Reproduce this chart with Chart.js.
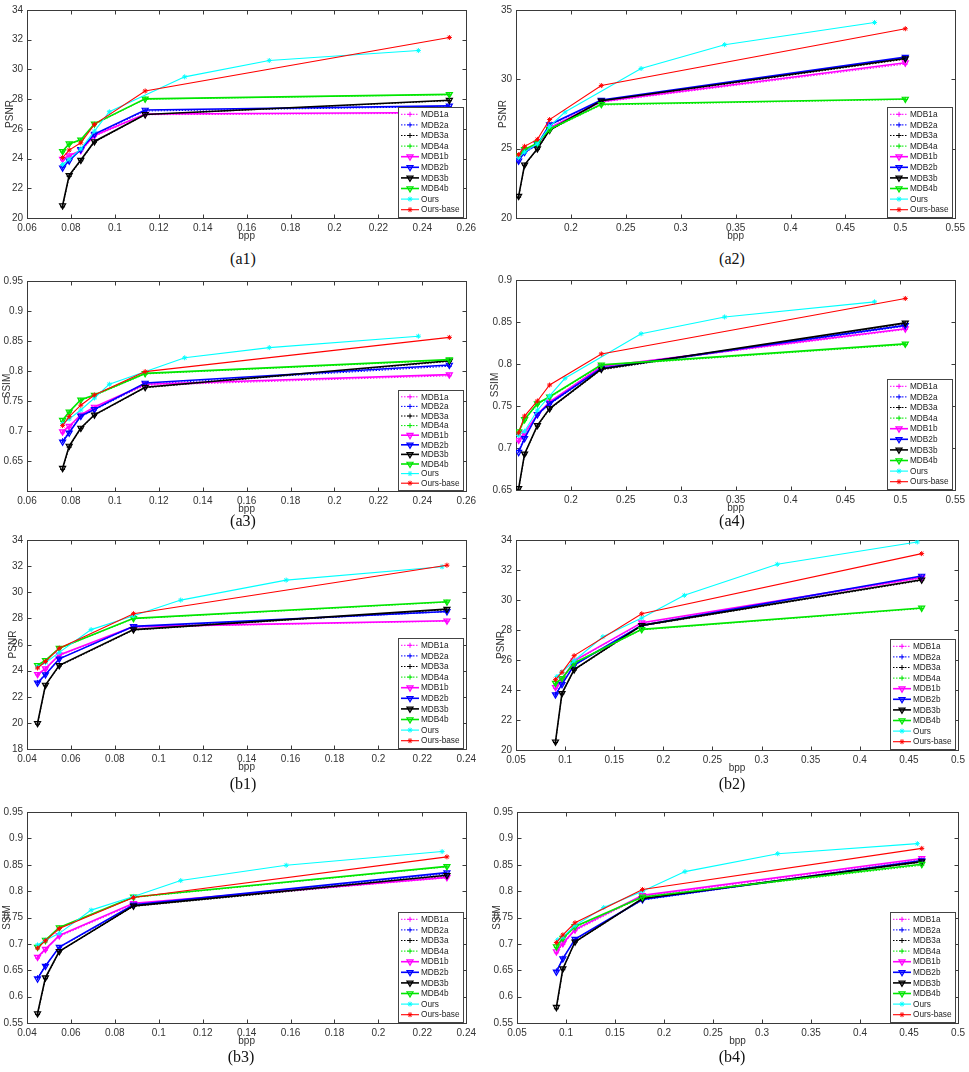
<!DOCTYPE html>
<html>
<head>
<meta charset="utf-8">
<script src="https://cdn.jsdelivr.net/npm/chart.js@4.4.1/dist/chart.umd.min.js"></script>
<style>
  body { margin: 0; background: #fff; width: 969px; height: 1072px; position: relative; overflow: hidden; }
  canvas { position: absolute; }
  .cap { position: absolute; font: 16px "Liberation Serif", serif; color: #111; transform: translate(-50%, -50%); white-space: nowrap; }
</style>
</head>
<body>
<script>
// series names, same order in every panel
const seriesNames = ['MDB1a', 'MDB2a', 'MDB3a', 'MDB4a', 'MDB1b', 'MDB2b', 'MDB3b', 'MDB4b', 'Ours', 'Ours-base'];

// bpp values (x) per image set
const bppA1 = [0.0762, 0.0792, 0.0845, 0.0907, 0.1138, 0.2523];
const oursBppA1 = [0.0762, 0.0792, 0.0845, 0.0907, 0.0975, 0.1318, 0.1703, 0.2382];
const bppA2 = [0.1524, 0.1578, 0.1695, 0.1806, 0.2277, 0.5045];
const oursBppA2 = [0.1524, 0.1578, 0.1695, 0.1806, 0.1946, 0.2639, 0.3400, 0.4765];
const bppB1 = [0.0448, 0.0484, 0.0547, 0.0885, 0.2312];
const oursBppB1 = [0.0448, 0.0484, 0.0547, 0.0692, 0.0885, 0.1100, 0.1580, 0.2290];
const bppB2 = [0.0902, 0.0968, 0.1092, 0.1780, 0.4630];
const oursBppB2 = [0.0917, 0.0968, 0.1092, 0.1385, 0.1780, 0.2214, 0.3160, 0.4585];

// (a1) PSNR
const a1PSNR = [
  [23.90, 24.15, 24.50, 25.50, 26.95, 27.05],
  [23.42, 23.90, 24.60, 25.60, 27.20, 27.50],
  [20.75, 22.80, 23.85, 25.10, 26.95, 27.90],
  [24.45, 24.95, 25.22, 26.30, 28.00, 28.30],
  [23.96, 24.20, 24.55, 25.55, 27.00, 27.10],
  [23.38, 23.85, 24.62, 25.65, 27.27, 27.55],
  [20.84, 22.87, 23.90, 25.15, 26.97, 27.93],
  [24.49, 25.00, 25.26, 26.34, 28.02, 28.32],
  [23.60, 23.95, 24.65, 25.85, 27.15, 29.50, 30.60, 31.27],
  [24.07, 24.57, 25.06, 26.30, 28.55, 32.15]
];
// (a2) PSNR
const a2PSNR = [
  [24.35, 24.80, 25.25, 26.45, 28.35, 31.10],
  [24.10, 24.70, 25.25, 26.68, 28.45, 31.55],
  [21.50, 23.80, 24.95, 26.30, 28.40, 31.45],
  [24.45, 24.90, 25.35, 26.35, 28.15, 28.55],
  [24.40, 24.85, 25.30, 26.50, 28.40, 31.20],
  [24.12, 24.75, 25.30, 26.73, 28.50, 31.60],
  [21.58, 23.84, 25.00, 26.35, 28.45, 31.50],
  [24.50, 24.95, 25.40, 26.40, 28.20, 28.58],
  [24.35, 24.75, 25.35, 26.60, 27.64, 30.78, 32.50, 34.10],
  [24.57, 25.17, 25.67, 27.10, 29.55, 33.65]
];
// (a3) SSIM
const a3SSIM = [
  [0.697, 0.706, 0.725, 0.738, 0.776, 0.792],
  [0.684, 0.699, 0.724, 0.735, 0.778, 0.808],
  [0.636, 0.673, 0.704, 0.726, 0.772, 0.816],
  [0.716, 0.731, 0.751, 0.759, 0.795, 0.818],
  [0.699, 0.708, 0.727, 0.740, 0.778, 0.794],
  [0.682, 0.697, 0.725, 0.736, 0.780, 0.810],
  [0.638, 0.675, 0.705, 0.727, 0.773, 0.817],
  [0.718, 0.732, 0.752, 0.760, 0.796, 0.819],
  [0.712, 0.720, 0.735, 0.755, 0.778, 0.822, 0.839, 0.858],
  [0.709, 0.724, 0.743, 0.760, 0.799, 0.856]
];
// (a4) SSIM
const a4SSIM = [
  [0.708, 0.717, 0.739, 0.754, 0.796, 0.841],
  [0.697, 0.713, 0.739, 0.752, 0.794, 0.845],
  [0.650, 0.692, 0.726, 0.746, 0.793, 0.848],
  [0.718, 0.733, 0.752, 0.760, 0.798, 0.823],
  [0.7095, 0.718, 0.740, 0.755, 0.797, 0.842],
  [0.695, 0.7115, 0.740, 0.753, 0.795, 0.846],
  [0.652, 0.693, 0.727, 0.747, 0.794, 0.849],
  [0.7194, 0.734, 0.753, 0.761, 0.799, 0.824],
  [0.715, 0.720, 0.745, 0.762, 0.783, 0.836, 0.856, 0.874],
  [0.718, 0.738, 0.756, 0.775, 0.812, 0.878]
];
// (b1) PSNR
const b1PSNR = [
  [23.68, 24.10, 25.15, 27.33, 27.78],
  [23.10, 23.72, 24.92, 27.35, 28.50],
  [19.90, 22.85, 24.35, 27.10, 28.66],
  [24.38, 24.75, 25.70, 27.97, 29.24],
  [23.72, 24.15, 25.20, 27.37, 27.82],
  [23.06, 23.70, 24.90, 27.39, 28.53],
  [19.97, 22.90, 24.40, 27.14, 28.71],
  [24.41, 24.79, 25.72, 28.00, 29.27],
  [24.30, 24.60, 25.40, 27.14, 28.20, 29.40, 30.93, 31.95],
  [24.20, 24.70, 25.72, 28.36, 32.07]
];
// (b2) PSNR
const b2PSNR = [
  [24.12, 24.64, 25.90, 28.45, 31.45],
  [23.72, 24.40, 25.65, 28.28, 31.55],
  [20.50, 23.74, 25.32, 28.27, 31.30],
  [24.42, 24.74, 25.77, 28.01, 29.43],
  [24.18, 24.69, 25.95, 28.49, 31.50],
  [23.69, 24.38, 25.67, 28.31, 31.60],
  [20.55, 23.78, 25.36, 28.31, 31.35],
  [24.46, 24.78, 25.80, 28.04, 29.47],
  [24.90, 25.20, 25.95, 27.55, 28.80, 30.31, 32.38, 33.87],
  [24.69, 25.18, 26.29, 29.08, 33.09]
];
// (b3) SSIM
const b3SSIM = [
  [0.673, 0.688, 0.714, 0.775, 0.825],
  [0.636, 0.659, 0.693, 0.772, 0.833],
  [0.566, 0.634, 0.685, 0.771, 0.828],
  [0.693, 0.706, 0.730, 0.788, 0.846],
  [0.675, 0.690, 0.716, 0.777, 0.826],
  [0.634, 0.658, 0.694, 0.774, 0.835],
  [0.568, 0.636, 0.686, 0.772, 0.830],
  [0.694, 0.707, 0.731, 0.789, 0.847],
  [0.698, 0.707, 0.720, 0.764, 0.790, 0.820, 0.849, 0.875],
  [0.692, 0.706, 0.729, 0.788, 0.865]
];
// (b4) SSIM
const b4SSIM = [
  [0.683, 0.699, 0.725, 0.790, 0.860],
  [0.649, 0.673, 0.708, 0.783, 0.857],
  [0.577, 0.651, 0.703, 0.785, 0.855],
  [0.693, 0.709, 0.731, 0.788, 0.849],
  [0.6855, 0.701, 0.727, 0.792, 0.862],
  [0.647, 0.672, 0.709, 0.784, 0.858],
  [0.580, 0.653, 0.704, 0.786, 0.856],
  [0.695, 0.711, 0.733, 0.789, 0.851],
  [0.708, 0.713, 0.735, 0.769, 0.800, 0.837, 0.871, 0.890],
  [0.7025, 0.717, 0.740, 0.803, 0.881]
];

// tick labels
const xTicksA1 = [0.06, 0.08, 0.1, 0.12, 0.14, 0.16, 0.18, 0.2, 0.22, 0.24, 0.26];
const xTicksA2 = [0.2, 0.25, 0.3, 0.35, 0.4, 0.45, 0.5, 0.55];
const xTicksB1 = [0.04, 0.06, 0.08, 0.1, 0.12, 0.14, 0.16, 0.18, 0.2, 0.22, 0.24];
const xTicksB2 = [0.05, 0.1, 0.15, 0.2, 0.25, 0.3, 0.35, 0.4, 0.45, 0.5];
const yTicksA1 = [20, 22, 24, 26, 28, 30, 32, 34];
const yTicksA2 = [20, 25, 30, 35];
const yTicksA3 = [0.65, 0.7, 0.75, 0.8, 0.85, 0.9, 0.95];
const yTicksA4 = [0.65, 0.7, 0.75, 0.8, 0.85, 0.9];
const yTicksB1 = [18, 20, 22, 24, 26, 28, 30, 32, 34];
const yTicksB2 = [20, 22, 24, 26, 28, 30, 32, 34];
const yTicksB34 = [0.55, 0.6, 0.65, 0.7, 0.75, 0.8, 0.85, 0.9, 0.95];

const colors = ['#ff00ff', '#0000ff', '#000000', '#00e600', '#ff00ff', '#0000ff', '#000000', '#00e600', '#00ffff', '#ff0000'];
const fontFam = '"Liberation Sans", Arial, sans-serif';
const legendFam = '"Liberation Sans Narrow", "Liberation Sans", Arial, sans-serif';

// layout of each panel: canvas box, chart area inside canvas, y title x, caption position
const panels = [
  { cap: '(a1)', left: 0,   top: 0,   w: 480, area: [27, 7, 470, 218],  bpp: bppA1, ours: oursBppA1, vals: a1PSNR, yTitle: 'PSNR', xr: [0.06, 0.26], xt: xTicksA1, yr: [20, 34],   yt: yTicksA1,  tx: 10, cx: 243, cy: 259 },
  { cap: '(a2)', left: 485, top: 0,   w: 484, area: [31, 7, 473, 218],  bpp: bppA2, ours: oursBppA2, vals: a2PSNR, yTitle: 'PSNR', xr: [0.15, 0.55], xt: xTicksA2, yr: [20, 35],   yt: yTicksA2,  tx: 18, cx: 732, cy: 259 },
  { cap: '(a3)', left: 0,   top: 265, w: 480, area: [27, 16, 469, 226], bpp: bppA1, ours: oursBppA1, vals: a3SSIM, yTitle: 'SSIM', xr: [0.06, 0.26], xt: xTicksA1, yr: [0.6, 0.95], yt: yTicksA3, tx: 7,  cx: 243, cy: 521, rowH: 9.6 },
  { cap: '(a4)', left: 485, top: 265, w: 484, area: [31, 15, 473, 225], bpp: bppA2, ours: oursBppA2, vals: a4SSIM, yTitle: 'SSIM', xr: [0.15, 0.55], xt: xTicksA2, yr: [0.65, 0.9], yt: yTicksA4, tx: 10, cx: 732, cy: 521 },
  { cap: '(b1)', left: 0,   top: 530, w: 480, area: [27, 9, 473, 219],  bpp: bppB1, ours: oursBppB1, vals: b1PSNR, yTitle: 'PSNR', xr: [0.04, 0.24], xt: xTicksB1, yr: [18, 34],   yt: yTicksB1,  tx: 13, cx: 243, cy: 784 },
  { cap: '(b2)', left: 485, top: 530, w: 484, area: [31, 9, 473, 220],  bpp: bppB2, ours: oursBppB2, vals: b2PSNR, yTitle: 'PSNR', xr: [0.05, 0.5],  xt: xTicksB2, yr: [20, 34],   yt: yTicksB2,  tx: 16, cx: 732, cy: 784 },
  { cap: '(b3)', left: 0,   top: 800, w: 480, area: [27, 12, 470, 223], bpp: bppB1, ours: oursBppB1, vals: b3SSIM, yTitle: 'SSIM', xr: [0.04, 0.24], xt: xTicksB1, yr: [0.55, 0.95], yt: yTicksB34, tx: 7, cx: 241, cy: 1057 },
  { cap: '(b4)', left: 485, top: 800, w: 484, area: [32, 12, 475, 223], bpp: bppB2, ours: oursBppB2, vals: b4SSIM, yTitle: 'SSIM', xr: [0.05, 0.5],  xt: xTicksB2, yr: [0.55, 0.95], yt: yTicksB34, tx: 12, cx: 732, cy: 1057 }
];

function seriesStyle(i) {
  if (i < 4) return { borderWidth: 1, borderDash: [1.5, 1.5], pointStyle: 'cross', pointRadius: 2.5, pointBorderWidth: 1, pointRotation: 0 };
  if (i < 8) return { borderWidth: 1.6, borderDash: [], pointStyle: 'triangle', pointRadius: 3.5, pointBorderWidth: 1.2, pointRotation: 180 };
  return { borderWidth: 1.1, borderDash: [], pointStyle: 'star', pointRadius: 2.5, pointBorderWidth: 1, pointRotation: 0 };
}

function fadeColor(hex) {
  const n = parseInt(hex.slice(1), 16);
  return 'rgba(' + (n >> 16) + ',' + ((n >> 8) & 255) + ',' + (n & 255) + ',0.3)';
}

// MATLAB-like axes box with inward ticks on all four sides
const matlabBox = {
  id: 'matlabBox',
  beforeDatasetsDraw(chart) {
    const { ctx, chartArea: a, scales: { x, y } } = chart;
    ctx.save();
    ctx.strokeStyle = '#3a3a3a';
    ctx.lineWidth = 1;
    const L = Math.round(a.left) + 0.5, T = Math.round(a.top) + 0.5;
    const R = Math.round(a.right) + 0.5, B = Math.round(a.bottom) + 0.5;
    ctx.strokeRect(L, T, R - L, B - T);
    ctx.beginPath();
    x.ticks.forEach(t => {
      const px = Math.round(x.getPixelForValue(t.value)) + 0.5;
      ctx.moveTo(px, B); ctx.lineTo(px, B - 4);
      ctx.moveTo(px, T); ctx.lineTo(px, T + 4);
    });
    y.ticks.forEach(t => {
      const py = Math.round(y.getPixelForValue(t.value)) + 0.5;
      ctx.moveTo(L, py); ctx.lineTo(L + 4, py);
      ctx.moveTo(R, py); ctx.lineTo(R - 4, py);
    });
    ctx.stroke();
    ctx.restore();
  }
};

// boxed legend at the lower right of the plot area
const boxLegend = {
  id: 'boxLegend',
  afterDatasetsDraw(chart, args, opts) {
    const { ctx, chartArea: a } = chart;
    const sets = chart.data.datasets;
    const rowH = opts.rowH || 10.6;
    const w = 65, h = Math.round(sets.length * rowH + 4);
    const L = Math.round(a.right - 3 - w), T = Math.round(a.bottom - 1 - h);
    ctx.save();
    // shrink the legend font until the longest label fits in the box
    let size = 10;
    ctx.font = size + 'px ' + legendFam;
    while (size > 7 && ctx.measureText('Ours-base').width > 39) {
      size -= 0.25;
      ctx.font = size + 'px ' + legendFam;
    }
    ctx.fillStyle = '#fff';
    ctx.fillRect(L, T, w, h);
    ctx.strokeStyle = '#444';
    ctx.lineWidth = 1;
    ctx.strokeRect(L + 0.5, T + 0.5, w, h);
    sets.forEach((ds, i) => {
      const cy = T + 2 + rowH * (i + 0.5);
      ctx.strokeStyle = ds.borderColor;
      ctx.lineWidth = ds.borderWidth;
      ctx.setLineDash(ds.borderDash || []);
      ctx.beginPath();
      ctx.moveTo(L + 3, cy);
      ctx.lineTo(L + 21, cy);
      ctx.stroke();
      ctx.setLineDash([]);
      ctx.fillStyle = ds.pointBackgroundColor;
      ctx.strokeStyle = ds.borderColor;
      ctx.lineWidth = ds.pointBorderWidth;
      if (Chart.helpers && Chart.helpers.drawPoint) {
        Chart.helpers.drawPoint(ctx, { pointStyle: ds.pointStyle, rotation: ds.pointRotation, radius: ds.pointRadius, borderWidth: ds.pointBorderWidth }, L + 12, cy);
      }
      ctx.fillStyle = '#222';
      ctx.font = size + 'px ' + legendFam;
      ctx.textBaseline = 'middle';
      ctx.textAlign = 'left';
      ctx.fillText(ds.label, L + 23, cy + 0.5);
    });
    ctx.restore();
  }
};

panels.forEach(p => {
  const h = p.area[3] + 27;
  const canvas = document.createElement('canvas');
  canvas.width = p.w;
  canvas.height = h;
  canvas.style.left = p.left + 'px';
  canvas.style.top = p.top + 'px';
  document.body.appendChild(canvas);

  const cap = document.createElement('div');
  cap.className = 'cap';
  cap.textContent = p.cap;
  cap.style.left = p.cx + 'px';
  cap.style.top = p.cy + 'px';
  document.body.appendChild(cap);

  const datasets = seriesNames.map((name, i) => {
    const xs = i === 8 ? p.ours : p.bpp;
    const st = seriesStyle(i);
    return Object.assign({
      label: name,
      data: p.vals[i].map((v, k) => ({ x: xs[k], y: v })),
      borderColor: colors[i],
      pointBorderColor: colors[i],
      pointBackgroundColor: i >= 4 && i < 8 ? fadeColor(colors[i]) : colors[i],
      backgroundColor: colors[i],
      tension: 0,
      fill: false,
      order: 10 - i
    }, st);
  });

  const tickFont = { family: fontFam, size: 10 };
  new Chart(canvas.getContext('2d'), {
    type: 'line',
    data: { datasets },
    options: {
      responsive: false,
      animation: false,
      events: [],
      layout: { padding: { left: 0, top: p.area[1], right: p.w - p.area[2], bottom: 0 } },
      plugins: {
        legend: { display: false },
        tooltip: { enabled: false },
        boxLegend: { rowH: p.rowH }
      },
      scales: {
        x: {
          type: 'linear', min: p.xr[0], max: p.xr[1],
          grid: { display: false, drawTicks: false },
          border: { display: false },
          afterBuildTicks: s => { s.ticks = p.xt.map(v => ({ value: v })); },
          afterFit: s => { s.height = h - p.area[3]; },
          ticks: { autoSkip: false, maxRotation: 0, padding: 4, color: '#333', font: tickFont, callback: v => String(v) },
          title: { display: true, text: 'bpp', color: '#333', font: tickFont, padding: { top: 0, bottom: 3 } }
        },
        y: {
          type: 'linear', min: p.yr[0], max: p.yr[1],
          grid: { display: false, drawTicks: false },
          border: { display: false },
          afterBuildTicks: s => { s.ticks = p.yt.map(v => ({ value: v })); },
          afterFit: s => { s.width = p.area[0]; },
          ticks: { autoSkip: false, padding: 4, color: '#333', font: tickFont, callback: v => String(v) },
          title: { display: true, text: p.yTitle, color: '#333', font: tickFont, padding: { top: Math.max(p.tx - 6, 0), bottom: 0 } }
        }
      }
    },
    plugins: [matlabBox, boxLegend]
  });
});
</script>
</body>
</html>
